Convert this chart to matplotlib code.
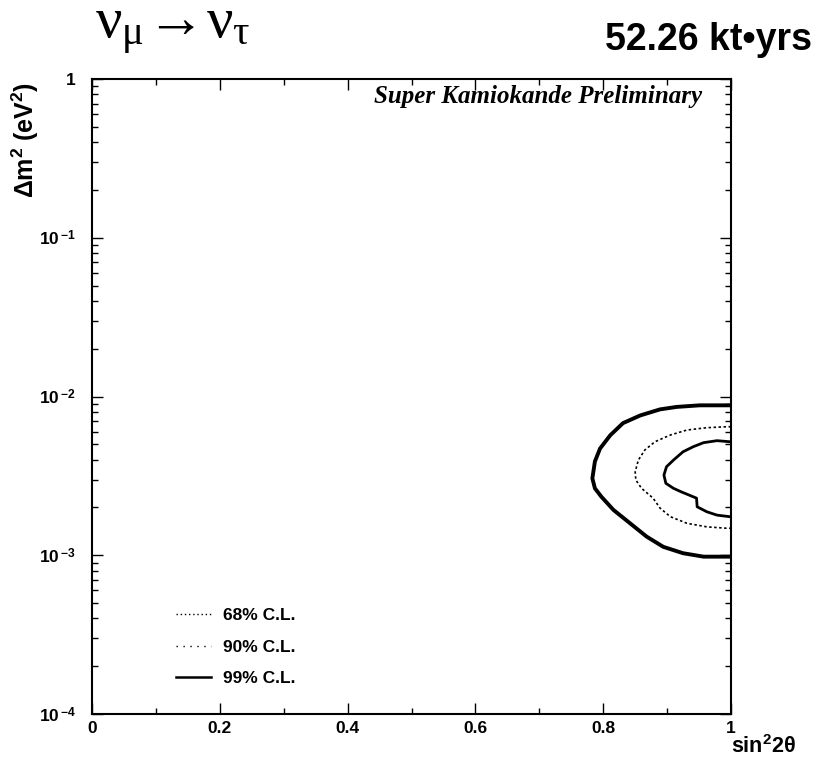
import math
import matplotlib
matplotlib.use("Agg")
import matplotlib.pyplot as plt
from matplotlib.lines import Line2D
from matplotlib.ticker import FixedLocator, FuncFormatter, LogLocator, NullFormatter, MultipleLocator

plt.rcParams['mathtext.fontset'] = 'custom'
plt.rcParams['mathtext.rm'] = 'Liberation Serif'
plt.rcParams['mathtext.it'] = 'Liberation Serif'
plt.rcParams['mathtext.bf'] = 'Liberation Sans:bold'
plt.rcParams['mathtext.sf'] = 'Liberation Sans'
plt.rcParams['font.family'] = ['Liberation Sans', 'DejaVu Sans']

# ---- data ----
cl68_sin = [0.998, 0.978, 0.957, 0.941, 0.925, 0.910, 0.899, 0.895, 0.898, 0.910, 0.922, 0.946, 0.947, 0.962, 0.978, 0.998]
cl68_dm = [5.19e-3, 5.27e-3, 5.12e-3, 4.83e-3, 4.49e-3, 3.98e-3, 3.61e-3, 3.20e-3, 2.84e-3, 2.64e-3, 2.51e-3, 2.29e-3, 2.02e-3, 1.88e-3, 1.79e-3, 1.75e-3]

cl90_sin = [1.0, 0.993, 0.962, 0.931, 0.905, 0.881, 0.865, 0.855, 0.850, 0.851, 0.860, 0.878, 0.889, 0.905, 0.931, 0.962, 0.993, 1.0]
cl90_dm = [6.45e-3, 6.45e-3, 6.36e-3, 6.15e-3, 5.72e-3, 5.19e-3, 4.60e-3, 3.98e-3, 3.36e-3, 2.98e-3, 2.64e-3, 2.29e-3, 1.98e-3, 1.75e-3, 1.59e-3, 1.51e-3, 1.48e-3, 1.48e-3]

cl99_sin = [1.0, 0.951, 0.915, 0.889, 0.858, 0.831, 0.811, 0.795, 0.787, 0.783, 0.787, 0.797, 0.816, 0.842, 0.868, 0.894, 0.925, 0.957, 1.0]
cl99_dm = [8.8e-3, 8.8e-3, 8.6e-3, 8.3e-3, 7.6e-3, 6.8e-3, 5.7e-3, 4.7e-3, 3.9e-3, 3.05e-3, 2.64e-3, 2.34e-3, 1.93e-3, 1.59e-3, 1.31e-3, 1.13e-3, 1.03e-3, 9.8e-4, 9.8e-4]

legend_labels = ['68% C.L.', '90% C.L.', '99% C.L.']
x_ticks = [0, 0.2, 0.4, 0.6, 0.8, 1]
x_tick_labels = ['0', '0.2', '0.4', '0.6', '0.8', '1']
y_ticks = [1e-4, 1e-3, 1e-2, 1e-1, 1]

fig = plt.figure(figsize=(8.2, 7.73), dpi=100)
ax = fig.add_axes([0.1122, 0.0763, 0.7793, 0.8215])
ax.set_xlim(0, 1)
ax.set_yscale('log')
ax.set_ylim(1e-4, 1)

ax.plot(cl99_sin, cl99_dm, color='black', lw=2.8, solid_joinstyle='round')
ax.plot(cl90_sin, cl90_dm, color='black', lw=1.2, linestyle=(0, (1.5, 1.5)))
ax.plot(cl68_sin, cl68_dm, color='black', lw=2.0)

handles = [Line2D([], [], color='black', lw=1.0, linestyle=(0, (1, 2))),
           Line2D([], [], color='black', lw=1.0, linestyle=(0, (1, 4))),
           Line2D([], [], color='black', lw=1.8)]
leg = ax.legend(handles, legend_labels, loc='lower left', bbox_to_anchor=(0.107, 0.019),
                frameon=False, handlelength=2.0, handletextpad=0.7, labelspacing=0.95,
                prop={'family': 'Liberation Sans', 'weight': 'bold', 'size': 12.5})

# ticks
ax.xaxis.set_major_locator(FixedLocator(x_ticks))
ax.xaxis.set_minor_locator(MultipleLocator(0.1))
ax.set_xticklabels(x_tick_labels)
ax.yaxis.set_major_locator(FixedLocator(y_ticks))
ax.yaxis.set_minor_locator(LogLocator(base=10, subs=range(2, 10), numticks=20))
ax.yaxis.set_minor_formatter(NullFormatter())


def yfmt(v, pos):
    if abs(v - 1) < 1e-9:
        return '1'
    e = int(round(math.log10(v)))
    return r'$\mathbf{10}^{\,\mathbf{%d}}$' % e


ax.yaxis.set_major_formatter(FuncFormatter(yfmt))
ax.tick_params(which='both', direction='in', top=True, right=True, width=1.0)
ax.tick_params(which='major', length=8)
ax.tick_params(which='minor', length=4)
ax.tick_params(axis='x', which='major', pad=5)
ax.tick_params(axis='y', which='major', pad=12)
for lab in ax.get_xticklabels() + ax.get_yticklabels():
    lab.set_fontweight('bold')
    lab.set_fontsize(12.5)
for sp in ax.spines.values():
    sp.set_linewidth(1.5)

ax.set_ylabel(r'$\mathbf{\Delta m^2\ (eV^2)}$', fontsize=18, loc='top')
ax.yaxis.set_label_coords(-0.08, 0.995)
ax.text(1.05, -0.052, r'$\mathbf{sin^2 2\theta}$', transform=ax.transAxes,
        ha='center', va='center', fontsize=15.5)

ax.text(0.955, 0.99, 'Super Kamiokande Preliminary', transform=ax.transAxes,
        ha='right', va='top', fontsize=18, family='Liberation Serif',
        fontweight='bold', style='italic')

fig.text(95 / 820, 1 - 30 / 773, r'$\nu_{\mu}\!\rightarrow\!\nu_{\tau}$', ha='left', va='center',
         fontsize=42)
fig.text(812 / 820, 1 - 40 / 773, '52.26 kt\u2022yrs', ha='right', va='center',
         fontsize=27, fontweight='bold', family='Liberation Sans')

fig.savefig('out.png', dpi=100)
